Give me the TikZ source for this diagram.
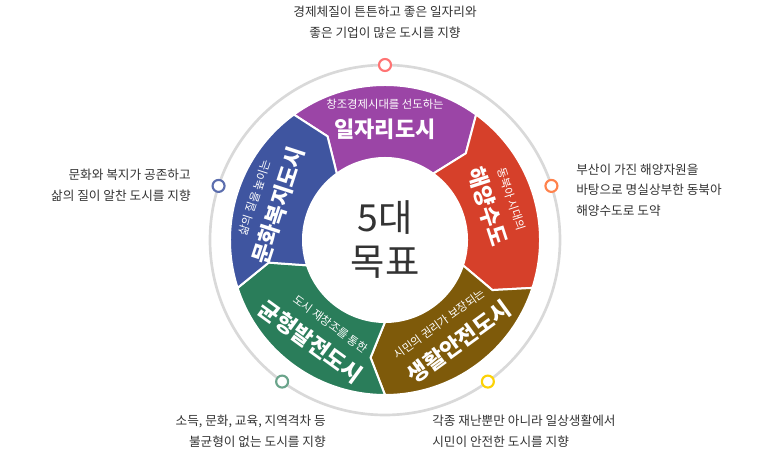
\documentclass[tikz,border=0pt]{standalone}
\usepackage{fontspec}
\usetikzlibrary{calc}
\setmainfont{Noto Sans CJK KR}
\definecolor{cpur}{HTML}{9B45A6}
\definecolor{cred}{HTML}{D6402A}
\definecolor{cbrn}{HTML}{7E5A0A}
\definecolor{cgrn}{HTML}{2A7D5A}
\definecolor{cblu}{HTML}{3F55A0}
\definecolor{txt}{HTML}{333333}
\tikzset{
 seg/.style={draw=white,line width=1.5pt,fill=#1},
 big/.style={text=white,font=\fontsize{16.5}{18}\selectfont\bfseries,inner sep=0},
 small/.style={text=white,font=\fontsize{8.5}{10}\selectfont,inner sep=0},
 desc/.style={text=txt,font=\fontsize{9.5}{15.5}\selectfont,inner sep=0},
 mk/.style={draw=#1,line width=1.6pt,fill=white,circle,minimum size=9pt,inner sep=0}
}
\begin{document}
\begin{tikzpicture}[x=0.75pt,y=0.75pt]
\useasboundingbox (0,0) rectangle (770,452);
\coordinate (c) at (385,212);
\draw[line width=2pt,draw=black!15] (c) circle[radius=175];
\def\R{155}\def\r{82}\def\d{7}
\foreach \m/\col in {90/cpur,18/cred,306/cbrn,234/cgrn,162/cblu}{
  \pgfmathsetmacro{\aa}{\m+36}\pgfmathsetmacro{\ab}{\m-36}
  \pgfmathsetmacro{\am}{\m+36-\d}\pgfmathsetmacro{\bm}{\m-36-\d}
  \pgfmathsetmacro{\rmid}{(\R+\r)/2}
  \draw[seg=\col] ($(c)+(\aa:\R)$) arc[start angle=\aa,end angle=\ab,radius=\R]
     -- ($(c)+(\bm:\rmid)$) -- ($(c)+(\ab:\r)$) arc[start angle=\ab,end angle=\aa,radius=\r]
     -- ($(c)+(\am:\rmid)$) -- cycle;
}
\fill[white] (c) circle[radius=80];
\node[text=txt,font=\fontsize{28}{33}\selectfont,align=center] (ctr) at (c) {5대\\목표};
\node[small] (ps) at ($(c)+(90:136)$) {창조경제시대를 선도하는};
\node[big] (pb) at ($(c)+(90:111)$) {일자리도시};
\node[small,rotate=-72] (rs) at ($(c)+(18:133)$) {동북아 시대의};
\node[big,rotate=-72] (rb) at ($(c)+(18:108)$) {해양수도};
\node[small,rotate=36] (bs) at ($(c)+(303:100)$) {시민의 권리가 보장되는};
\node[big,rotate=36] (bb) at ($(c)+(306:126)$) {생활안전도시};
\node[small,rotate=-36] (gs) at ($(c)+(237:100)$) {도시 재창조를 통한};
\node[big,rotate=-36] (gb) at ($(c)+(234:126)$) {균형발전도시};
\node[small,rotate=72] (us) at ($(c)+(162:137)$) {삶의 질을 높이는};
\node[big,rotate=72] (ub) at ($(c)+(162:112)$) {문화복지도시};
\node[mk=red!55] (m1) at ($(c)+(90:175)$) {};
\node[mk=orange!60!red!70] (m2) at ($(c)+(18:175)$) {};
\node[mk=cblu!85] (m3) at ($(c)+(162:175)$) {};
\node[mk=cgrn!70] (m4) at ($(c)+(234:175)$) {};
\node[mk=yellow!70!orange] (m5) at ($(c)+(306:175)$) {};
\node[desc,align=center] (d1) at (385,430) {경제체질이 튼튼하고 좋은 일자리와\\좋은 기업이 많은 도시를 지향};
\node[desc,align=left,anchor=west] (d2) at (576,262) {부산이 가진 해양자원을\\바탕으로 명실상부한 동북아\\해양수도로 도약};
\node[desc,align=right,anchor=east] (d3) at (191,267) {문화와 복지가 공존하고\\삶의 질이 알찬 도시를 지향};
\node[desc,align=right,anchor=east] (d4) at (326,21) {소득, 문화, 교육, 지역격차 등\\불균형이 없는 도시를 지향};
\node[desc,align=left,anchor=west] (d5) at (432,21) {각종 재난뿐만 아니라 일상생활에서\\시민이 안전한 도시를 지향};
\end{tikzpicture}
\end{document}
